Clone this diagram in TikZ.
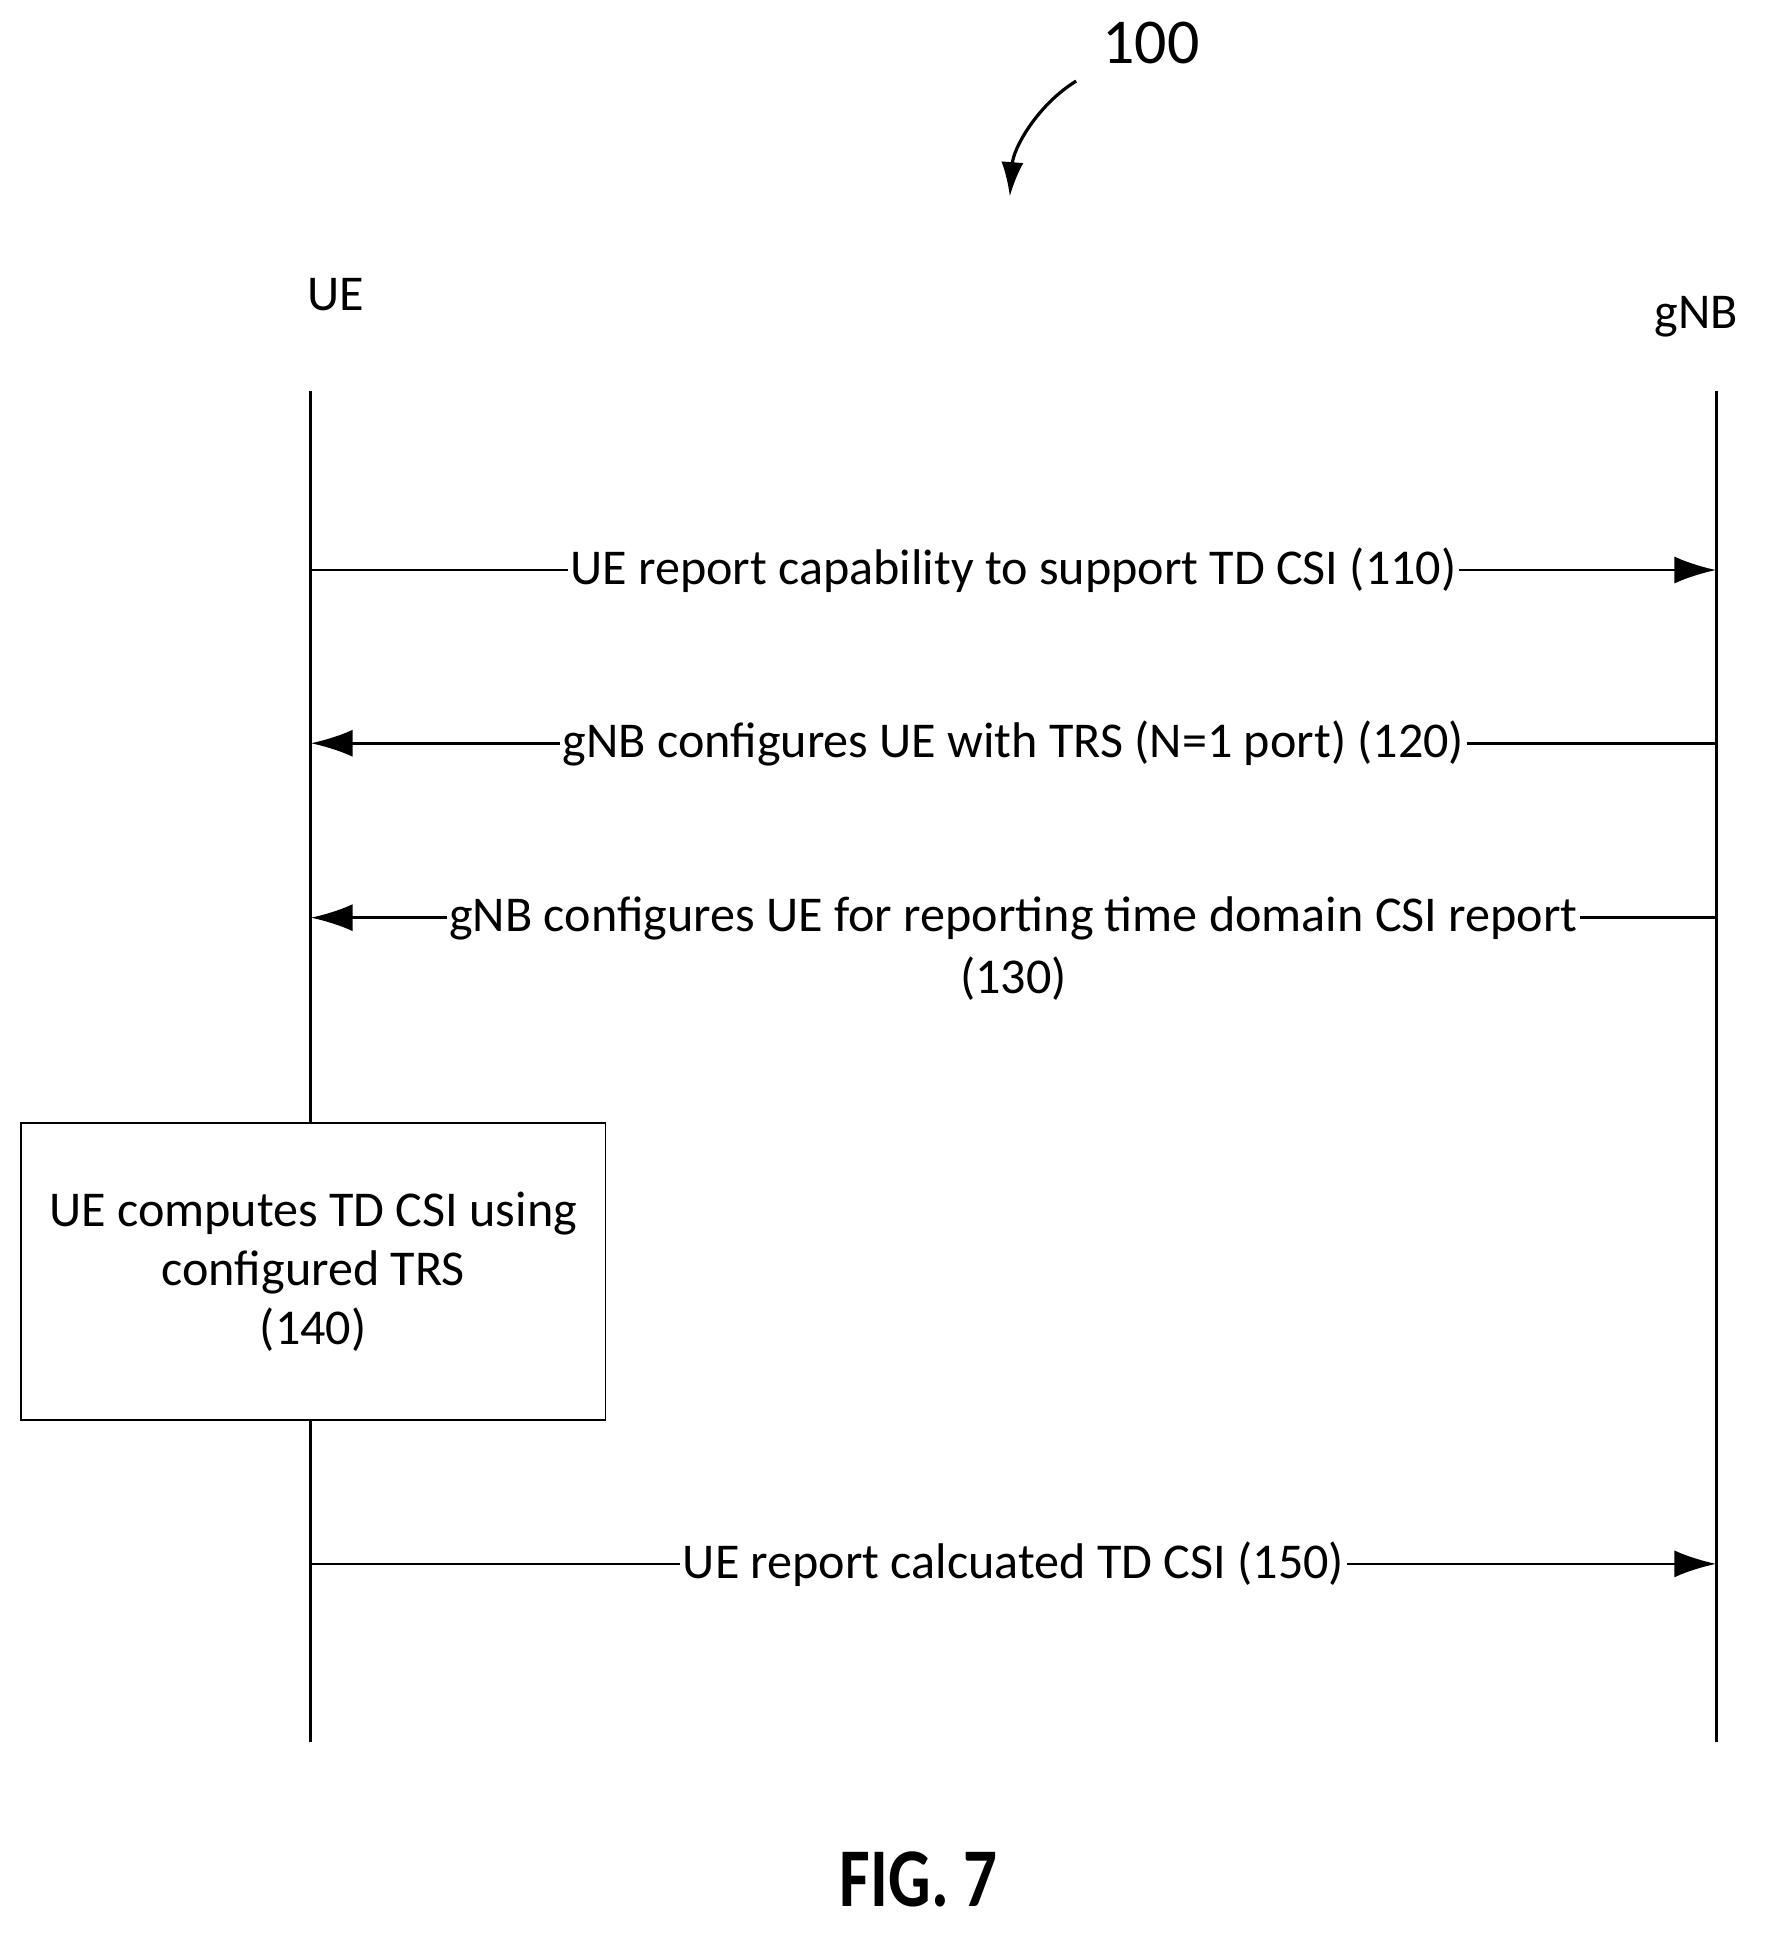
\documentclass[tikz,border=0pt]{standalone}
\usepackage{fontspec}
\setmainfont{Carlito}
\usetikzlibrary{arrows.meta}
\tikzset{
  msg/.style={draw, line width=1.1pt, -{Latex[length=17pt,width=11pt]}},
  lbl/.style={fill=white, inner sep=1pt, font=\fontsize{20.4}{25}\selectfont},
  life/.style={draw, line width=1.1pt}
}
\begin{document}
\begin{tikzpicture}[x=0.5pt,y=-0.5pt]
  \useasboundingbox (0,0) rectangle (1446,1580);
  % labels and lifelines
  \node[lbl] (ue) at (273,240) {UE};
  \node[lbl] (gnb) at (1381,258) {gNB};
  \coordinate (ueTop) at (253,318);
  \coordinate (ueBot) at (253,1418);
  \coordinate (gTop) at (1397,318);
  \coordinate (gBot) at (1397,1418);
  \node[draw, line width=0.6pt, minimum width=238pt, minimum height=121pt,
        align=center, font=\fontsize{20.4}{24}\selectfont] (box) at (255,1035)
        {UE computes TD CSI using\\configured TRS\\(140)};
  \draw[life] (ueTop) -- (box.north -| ueTop);
  \draw[life] (box.south -| ueTop) -- (ueBot);
  \draw[life] (gTop) -- (gBot);
  % figure number
  \node[font=\fontsize{26}{30}\selectfont] (num) at (937,35) {100};
  \coordinate (numA) at (876,66);
  \coordinate (numB) at (822,160);
  \draw[line width=1.3pt, -{Latex[length=14pt,width=9pt]}] (numA) .. controls (845,85) and (825,120) .. (numB);
  % messages
  \draw[msg] (253,464) -- node[lbl] {UE report capability to support TD CSI (110)} (1397,464);
  \draw[msg] (1397,605) -- node[lbl] {gNB configures UE with TRS (N=1 port) (120)} (253,605);
  \draw[msg] (1397,747) -- node[lbl, align=center, font=\fontsize{20.4}{25}\selectfont, yshift=-12.5pt]
        {gNB configures UE for reporting time domain CSI report\\(130)} (253,747);
  \draw[msg] (253,1273) -- node[lbl] {UE report calcuated TD CSI (150)} (1397,1273);
  \node[font=\fontsize{34}{38}\bfseries\selectfont, xscale=0.8] (fig) at (748,1530) {FIG. 7};
\end{tikzpicture}
\end{document}
